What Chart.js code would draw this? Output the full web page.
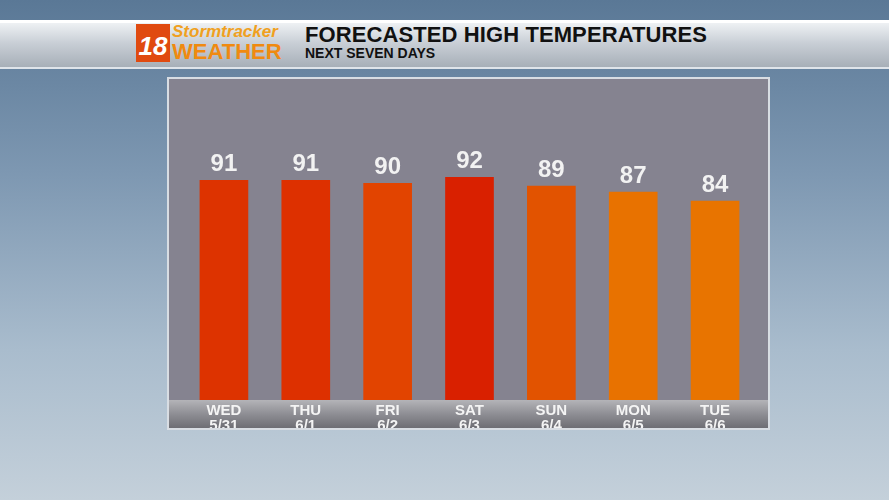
<!DOCTYPE html>
<html><head><meta charset="utf-8">
<script src="https://cdn.jsdelivr.net/npm/chart.js@4"></script>
<style>
body{margin:0;width:889px;height:500px;overflow:hidden;font-family:"Liberation Sans",Arial,sans-serif;
background:linear-gradient(180deg,#5a7896 0%,#7e98b2 35%,#a9bccd 70%,#c4d0da 100%);position:relative}
#hdr{position:absolute;left:0;top:20px;width:889px;height:44px;background:linear-gradient(180deg,#eef1f4 0%,#c9cfd6 45%,#a7afb8 100%);border-top:3px solid #fff;border-bottom:2px solid #dfe4ea}
#logo{position:absolute;left:136px;top:24px;width:162px;height:38px;font-weight:bold;font-style:italic}
#t1{position:absolute;left:305px;top:22px;font-size:22px;font-weight:bold;color:#111;letter-spacing:0.1px}
#t2{position:absolute;left:305px;top:45px;font-size:14px;font-weight:bold;color:#111}
#panel{position:absolute;left:167px;top:77px;width:599px;height:349px;background:#858390;border:2px solid #d8dde3;box-sizing:content-box;overflow:hidden}
canvas{position:absolute;left:0;top:0}
</style></head><body>
<div id="hdr"></div>
<div id="logo"><span style="position:absolute;left:0;top:0;width:34px;height:38px;background:#e04a10;color:#fff;font-size:26px;text-align:center;line-height:44px">18</span><span style="position:absolute;left:36px;top:-2px;color:#f0a020;font-size:17px">Stormtracker</span><span style="position:absolute;left:36px;top:15px;color:#f08a10;font-size:22px;font-style:normal">WEATHER</span></div>
<div id="t1">FORECASTED HIGH TEMPERATURES</div>
<div id="t2">NEXT SEVEN DAYS</div>
<div id="panel"><canvas id="c" width="599" height="349"></canvas></div>
<script>
const days=["WED","THU","FRI","SAT","SUN","MON","TUE"];
const dates=["5/31","6/1","6/2","6/3","6/4","6/5","6/6"];
const highs=[91,91,90,92,89,87,84];
const barColors=["#dd3300","#dd3000","#e24400","#d92000","#e25300","#e87200","#e87400"];
const strip={id:"strip",beforeDraw(ch){const c=ch.ctx,a=ch.chartArea;const g=c.createLinearGradient(0,a.bottom,0,ch.height);g.addColorStop(0,"#b4b4b8");g.addColorStop(0.5,"#8e8e94");g.addColorStop(1,"#6e6e74");c.fillStyle=g;c.fillRect(0,a.bottom,ch.width,ch.height-a.bottom);}};
const vals={id:"vals",afterDatasetsDraw(ch){const c=ch.ctx;c.save();c.fillStyle="#f2f2f2";c.font="bold 24px 'Liberation Sans'";c.textAlign="center";c.textBaseline="bottom";ch.getDatasetMeta(0).data.forEach((b,i)=>c.fillText(highs[i],b.x,b.y-4));c.restore();}};
new Chart(document.getElementById("c"),{type:"bar",
data:{labels:days.map((d,i)=>[d,dates[i]]),datasets:[{data:highs,backgroundColor:barColors,barThickness:48}]},
options:{responsive:false,animation:false,layout:{padding:{left:14,right:12,top:0,bottom:0}},
plugins:{legend:{display:false},tooltip:{enabled:false}},
scales:{y:{display:false,min:17,max:125.1},
x:{grid:{display:false},border:{display:false},ticks:{color:"#f4f4f4",font:{size:15,weight:"bold",family:"Liberation Sans",lineHeight:1.0},padding:-5}}}},
plugins:[strip,vals]});
</script></body></html>
